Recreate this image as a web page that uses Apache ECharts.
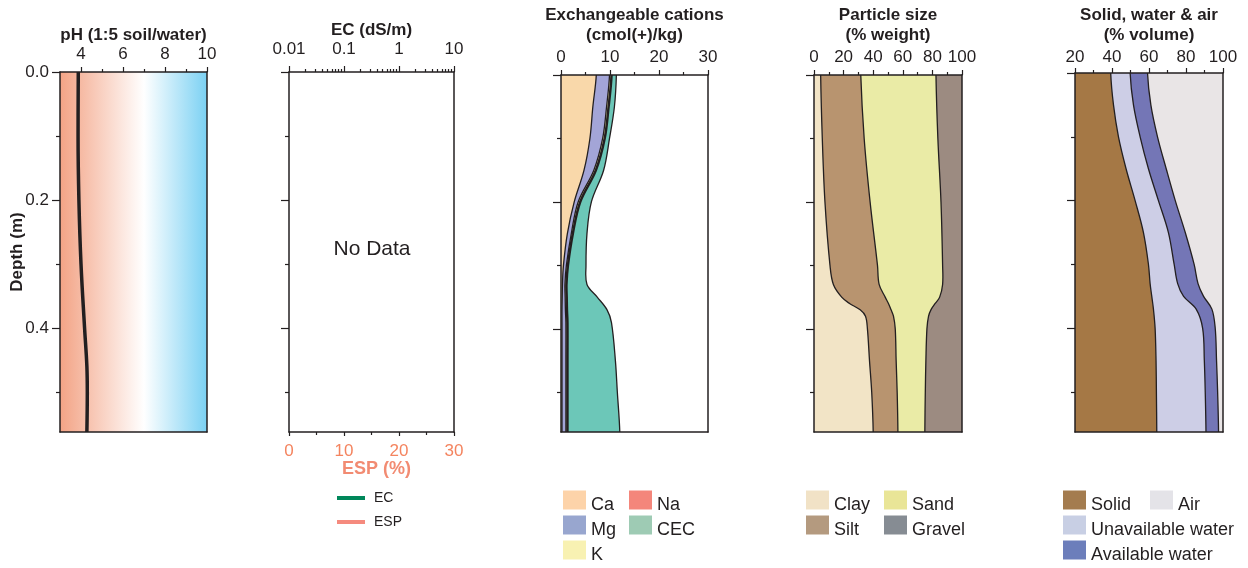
<!DOCTYPE html>
<html><head><meta charset="utf-8">
<script src="https://cdn.jsdelivr.net/npm/echarts@6/dist/echarts.min.js"></script>
<style>html,body{margin:0;padding:0;background:#fff}#c{width:1248px;height:568px}</style>
</head><body><div id="c"></div>
<script>
// ---------------- data ----------------
const depthMax = 0.5625;
const depthMajor = [0, 0.2, 0.4];
const depthMinor = [0.1, 0.3, 0.5];

const phTicksMajor = [4, 6, 8, 10];
const phTicksMinor = [5, 7, 9];
const phDepth = [0, 0.1, 0.2, 0.3, 0.4, 0.46, 0.5, 0.5625];
const phValue = [3.87, 3.86, 3.9, 4.0, 4.17, 4.28, 4.3, 4.28];

const ecTicksMajor = [0.01, 0.1, 1, 10];
const ecTicksMinor = [0.02, 0.03, 0.04, 0.05, 0.06, 0.07, 0.08, 0.09,
                      0.2, 0.3, 0.4, 0.5, 0.6, 0.7, 0.8, 0.9,
                      2, 3, 4, 5, 6, 7, 8, 9];
const ecValue = [];   // no data
const espValue = [];  // no data

const cationDepth = [0, 0.05, 0.1, 0.15, 0.2, 0.25, 0.3, 0.33, 0.35, 0.37, 0.39, 0.45, 0.5, 0.5625];
const caValue  = [7.2, 6.5, 5.9, 4.7, 2.7, 1.3, 0.5, 0.3, 0.25, 0.2, 0.2, 0.2, 0.2, 0.2];
const mgValue  = [2.7, 2.8, 2.6, 2.0, 0.8, 0.8, 0.6, 0.5, 0.6, 0.7, 0.8, 0.8, 0.8, 0.8];
const kValue   = [0.3, 0.3, 0.3, 0.3, 0.3, 0.2, 0.2, 0.2, 0.2, 0.2, 0.2, 0.2, 0.2, 0.2];
const naValue  = [0.1, 0.1, 0.1, 0.1, 0.1, 0.1, 0.1, 0.1, 0.1, 0.1, 0.1, 0.1, 0.1, 0.1];
const cecValue = [11.3, 10.9, 9.9, 8.7, 6.2, 5.3, 5.1, 5.3, 7.4, 9.4, 10.3, 11.1, 11.5, 12.0];

const psDepth = [0, 0.1, 0.2, 0.3, 0.33, 0.35, 0.36, 0.37, 0.38, 0.4, 0.45, 0.5, 0.5625];
const clayValue   = [4.5, 5.6, 7.4, 10.8, 13.1, 18.7, 24.0, 31.2, 34.8, 36.1, 37.5, 39.0, 40.0];
const siltValue   = [27.1, 28.3, 30.5, 32.1, 30.9, 29.4, 26.3, 20.9, 18.9, 18.8, 18.0, 17.2, 16.7];
const sandValue   = [50.8, 49.8, 47.9, 44.0, 42.9, 36.8, 31.6, 26.9, 23.7, 21.4, 20.1, 19.0, 18.2];
const gravelValue = [17.6, 16.3, 14.2, 13.1, 13.1, 15.1, 18.1, 21.0, 22.6, 23.7, 24.4, 24.8, 25.1];

const swaDepth = [0, 0.05, 0.1, 0.15, 0.2, 0.25, 0.3, 0.33, 0.35, 0.37, 0.4, 0.45, 0.5, 0.5625];
const solidValue   = [39.3, 40.8, 43.5, 47.6, 52.5, 57.0, 59.7, 60.6, 61.5, 62.4, 63.3, 63.8, 64.0, 64.2];
const unavailValue = [10.5, 10.8, 11.7, 12.1, 12.6, 13.5, 13.9, 14.9, 17.2, 23.1, 25.7, 26.1, 26.4, 26.6];
const availValue   = [9.4, 9.4, 9.4, 9.6, 9.1, 9.1, 10.8, 11.0, 10.8, 8.5, 6.8, 6.6, 6.7, 6.8];
const airValue     = [40.8, 39.0, 35.4, 30.7, 25.8, 20.4, 15.6, 13.5, 10.5, 6.0, 4.2, 3.5, 2.9, 2.4];

// ---------------- styling ----------------
const INK = '#231F20';
const FONT = '"Liberation Sans", Arial, Helvetica, sans-serif';
const axLine = { show: true, onZero: false, lineStyle: { color: INK, width: 1.5 } };
const noLine = { show: false, onZero: false };
const tickLine = { color: INK, width: 1.2 };
const labelStyle = { fontSize: 17, color: INK, fontFamily: FONT };
const titleStyle = { fontSize: 17, fontWeight: 'bold', color: INK, fontFamily: FONT, lineHeight: 20 };

const grids = [
  { left: 60,   top: 72, width: 147, height: 360 },
  { left: 289,  top: 72, width: 165, height: 360 },
  { left: 561,  top: 72, width: 147, height: 360 },
  { left: 814,  top: 72, width: 148, height: 360 },
  { left: 1075, top: 72, width: 148, height: 360 }
];
grids[0].show = true;
grids[0].borderWidth = 0;
grids[0].backgroundColor = {
  type: 'linear', x: 0, y: 0, x2: 1, y2: 0,
  colorStops: [
    { offset: 0, color: '#F3A385' },
    { offset: 0.5714, color: '#FFFFFF' },
    { offset: 1, color: '#7BD1F3' }
  ]
};

const xAxis = [], yAxis = [];
const axisDefaults = { z: 10, splitLine: { show: false }, nameMoveOverlap: false };
function addX(o) { xAxis.push(Object.assign({}, axisDefaults, o)); return xAxis.length - 1; }
function addY(o) { yAxis.push(Object.assign({}, axisDefaults, o)); return yAxis.length - 1; }

function depthAxes(g, withLabel) {
  const base = { gridIndex: g, type: 'value', inverse: true, min: 0, max: depthMax };
  const main = addY(Object.assign({}, base, {
    position: 'left', axisLine: axLine,
    axisTick: { show: true, length: 8, customValues: depthMajor, lineStyle: tickLine },
    axisLabel: Object.assign({ show: withLabel, customValues: depthMajor, margin: 11,
      formatter: v => Number(v).toFixed(1) }, labelStyle),
    name: withLabel ? 'Depth (m)' : '', nameLocation: 'middle', nameGap: 33, nameTextStyle: titleStyle
  }));
  addY(Object.assign({}, base, {
    position: 'left', axisLine: noLine,
    axisTick: { show: true, length: 4, customValues: depthMinor, lineStyle: tickLine },
    axisLabel: { show: false }
  }));
  addY(Object.assign({}, base, {
    position: 'right', axisLine: axLine, axisTick: { show: false }, axisLabel: { show: false }
  }));
  return main;
}
function bottomFrame(g) {
  return addX({ gridIndex: g, type: 'value', position: 'bottom', min: 0, max: 1,
    axisLine: axLine, axisTick: { show: false }, axisLabel: { show: false } });
}
function topValueAxis(g, min, max, interval, name, gap, margin) {
  return addX({ gridIndex: g, type: 'value', position: 'top', min, max, interval,
    axisLine: axLine,
    axisTick: { show: true, length: 5, lineStyle: tickLine },
    minorTick: { show: true, splitNumber: 2, length: 3, lineStyle: tickLine },
    axisLabel: Object.assign({ margin: margin }, labelStyle),
    name, nameLocation: 'middle', nameGap: gap, nameTextStyle: titleStyle });
}

// grid 0 : pH
const phX = addX({ gridIndex: 0, type: 'value', position: 'top', min: 3, max: 10,
  axisLine: axLine,
  axisTick: { show: true, length: 5, customValues: phTicksMajor, lineStyle: tickLine },
  axisLabel: Object.assign({ customValues: phTicksMajor, margin: 9 }, labelStyle),
  name: 'pH (1:5 soil/water)', nameLocation: 'middle', nameGap: 27, nameTextStyle: titleStyle });
addX({ gridIndex: 0, type: 'value', position: 'top', min: 3, max: 10, axisLine: noLine,
  axisTick: { show: true, length: 3, customValues: phTicksMinor, lineStyle: tickLine },
  axisLabel: { show: false } });
bottomFrame(0);
const phY = depthAxes(0, true);

// grid 1 : EC / ESP
const ecX = addX({ gridIndex: 1, type: 'log', logBase: 10, position: 'top', min: 0.01, max: 10,
  axisLine: axLine,
  axisTick: { show: true, length: 6, customValues: ecTicksMajor, lineStyle: tickLine },
  axisLabel: Object.assign({ customValues: ecTicksMajor, margin: 14,
    formatter: v => String(+Number(v).toPrecision(3)) }, labelStyle),
  name: 'EC (dS/m)', nameLocation: 'middle', nameGap: 32, nameTextStyle: titleStyle });
addX({ gridIndex: 1, type: 'log', logBase: 10, position: 'top', min: 0.01, max: 10, axisLine: noLine,
  axisTick: { show: true, length: 3, customValues: ecTicksMinor, lineStyle: tickLine },
  axisLabel: { show: false } });
const espX = addX({ gridIndex: 1, type: 'value', position: 'bottom', min: 0, max: 30, interval: 10,
  axisLine: axLine,
  axisTick: { show: true, length: 4, lineStyle: tickLine },
  minorTick: { show: true, splitNumber: 2, length: 3, lineStyle: tickLine },
  axisLabel: { margin: 11, fontSize: 17, color: '#F4845F', fontFamily: FONT },
  name: 'ESP (%)', nameLocation: 'middle', nameGap: 27,
  nameTextStyle: { fontSize: 18, fontWeight: 'bold', color: '#F28B72', fontFamily: FONT, lineHeight: 20,
                   padding: [0, 0, 0, 10] } });
const ecY = depthAxes(1, false);

// grid 2 : cations
const catX = topValueAxis(2, 0, 30, 10, 'Exchangeable cations\n(cmol(+)/kg)', 30, 9);
bottomFrame(2);
const catY = depthAxes(2, false);

// grid 3 : particle size
const psX = topValueAxis(3, 0, 100, 20, 'Particle size\n(% weight)', 30, 9);
bottomFrame(3);
const psY = depthAxes(3, false);

// grid 4 : solid/water/air
const swX = topValueAxis(4, 20, 100, 20, 'Solid, water & air\n(% volume)', 28, 7);
bottomFrame(4);
const swY = depthAxes(4, false);

// ---------------- series ----------------
function cumulative(arrs) {
  const out = []; let acc = arrs[0].map(() => 0);
  arrs.forEach(a => { acc = acc.map((v, i) => v + a[i]); out.push(acc.slice()); });
  return out;
}
// region from the left of the plot to a boundary curve, drawn through the axis scales
function leftFill(name, xi, yi, depths, edges, fill, stroke, lw) {
  const data = depths.map((d, i) => [edges[i], d]);
  return {
    type: 'custom', name, xAxisIndex: xi, yAxisIndex: yi, clip: true, silent: true, z: 2,
    itemStyle: { color: fill },
    data,
    renderItem: function (params, api) {
      if (params.dataIndex !== 0) return null;
      const pts = [];
      for (let i = 0; i < data.length; i++) pts.push(api.coord([api.value(0, i), api.value(1, i)]));
      const cs = params.coordSys;
      const L = cs.x - 40, ext = 40;
      const first = pts[0], last = pts[pts.length - 1];
      const poly = [[L, first[1] - ext], [first[0], first[1] - ext]].concat(pts)
        .concat([[last[0], last[1] + ext], [L, last[1] + ext]]);
      return {
        type: 'polygon',
        shape: { points: poly, smooth: 0.35 },
        style: { fill: fill, stroke: stroke || 'none', lineWidth: lw || 1.3 }
      };
    }
  };
}

const series = [];
// pH line
series.push({ type: 'line', name: 'pH', xAxisIndex: phX, yAxisIndex: phY, smooth: 0.4, symbol: 'none',
  silent: true, z: 3, lineStyle: { color: INK, width: 3.5 },
  data: phDepth.map((d, i) => [phValue[i], d]) });
// EC / ESP (no data)
series.push({ type: 'line', name: 'EC', xAxisIndex: ecX, yAxisIndex: ecY, symbol: 'none',
  itemStyle: { color: '#00875A' }, lineStyle: { color: '#00875A', width: 3 }, data: ecValue });
series.push({ type: 'line', name: 'ESP', xAxisIndex: espX, yAxisIndex: ecY, symbol: 'none',
  itemStyle: { color: '#F58A7E' }, lineStyle: { color: '#F58A7E', width: 3 }, data: espValue });

// cations
const catCum = cumulative([caValue, mgValue, kValue, naValue]);
series.push(leftFill('CEC', catX, catY, cationDepth, cecValue, '#6CC7B8', INK));
series.push(leftFill('Na', catX, catY, cationDepth, catCum[3], '#F4877C', INK, 2.6));
series.push(leftFill('K', catX, catY, cationDepth, catCum[2], '#F7EEA8', INK));
series.push(leftFill('Mg', catX, catY, cationDepth, catCum[1], '#A3A5D7', INK));
series.push(leftFill('Ca', catX, catY, cationDepth, catCum[0], '#F9D8AA', INK));

// particle size
const psCum = cumulative([clayValue, siltValue, sandValue, gravelValue]);
series.push(leftFill('Gravel', psX, psY, psDepth, psCum[3], '#9C8B81', null));
series.push(leftFill('Sand', psX, psY, psDepth, psCum[2], '#EAEBA6', INK));
series.push(leftFill('Silt', psX, psY, psDepth, psCum[1], '#B8946F', INK));
series.push(leftFill('Clay', psX, psY, psDepth, psCum[0], '#F2E4C6', INK));

// solid, water & air
const swCum = cumulative([solidValue, unavailValue, availValue, airValue]);
series.push(leftFill('Air', swX, swY, swaDepth, swCum[3], '#E9E5E6', null));
series.push(leftFill('Available water', swX, swY, swaDepth, swCum[2], '#7476B6', INK));
series.push(leftFill('Unavailable water', swX, swY, swaDepth, swCum[1], '#CDCEE6', INK));
series.push(leftFill('Solid', swX, swY, swaDepth, swCum[0], '#A57845', INK));

// ---------------- legends ----------------
const legendText = { fontSize: 18, color: INK, fontFamily: FONT,
  rich: { t: { fontSize: 18, lineHeight: 19, color: INK, fontFamily: FONT, padding: [10, 0, 0, 0] } } };
function boxLegend(left, items) {
  return { left, top: 486, orient: 'vertical', padding: 0, icon: 'rect', itemWidth: 23, itemHeight: 19,
    itemGap: -3, selectedMode: false, textStyle: legendText, formatter: '{t|{name}}',
    data: items.map(([name, color]) => ({ name, itemStyle: { color, borderWidth: 0 } })) };
}
const legend = [
  { left: 337, top: 489, orient: 'vertical', padding: 0, icon: 'rect', itemWidth: 28, itemHeight: 4,
    itemGap: 6, selectedMode: false,
    textStyle: { fontSize: 14, lineHeight: 18, color: INK, fontFamily: FONT, padding: [0, 0, 0, 4] },
    data: [{ name: 'EC', itemStyle: { color: '#00875A' } }, { name: 'ESP', itemStyle: { color: '#F58A7E' } }] },
  boxLegend(563, [['Ca', '#FDD3A9'], ['Mg', '#98A6CF'], ['K', '#F8F1B2']]),
  boxLegend(629, [['Na', '#F4867B'], ['CEC', '#9ECBB4']]),
  boxLegend(806, [['Clay', '#F1E2C6'], ['Silt', '#B49A7F']]),
  boxLegend(884, [['Sand', '#E9E597'], ['Gravel', '#868C93']]),
  boxLegend(1063, [['Solid', '#A47C4F'], ['Unavailable water', '#C8CFE4'], ['Available water', '#6C7EBB']]),
  boxLegend(1150, [['Air', '#E4E3E8']])
];

const chart = echarts.init(document.getElementById('c'), null, { renderer: 'canvas' });
chart.setOption({
  animation: false,
  backgroundColor: '#ffffff',
  textStyle: { fontFamily: FONT },
  grid: grids,
  xAxis, yAxis, series, legend,
  graphic: [{ type: 'text', x: 372, y: 249, silent: true,
    style: { text: 'No Data', fontSize: 21, fill: INK, fontFamily: FONT, align: 'center', verticalAlign: 'middle' } }]
});
</script></body></html>
